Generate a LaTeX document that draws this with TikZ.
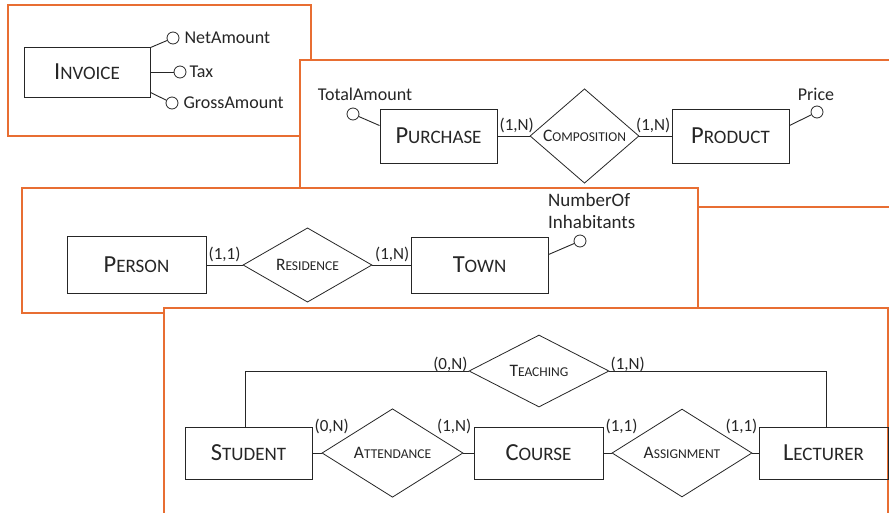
\documentclass[tikz,border=0pt]{standalone}
\usepackage{fontspec}
\setmainfont{Carlito}
\usetikzlibrary{shapes.geometric,positioning}

\definecolor{frame}{RGB}{232,110,50}
\newcommand{\entname}[2]{{\fontsize{24.5}{28}\selectfont #1}{\fontsize{19}{22}\selectfont #2}}
\newcommand{\relname}[2]{{\fontsize{17.5}{21}\selectfont #1}{\fontsize{13.5}{17}\selectfont #2}}

\begin{document}
\begin{tikzpicture}[x=1pt,y=-1pt,inner sep=1pt]
	\tikzstyle{panel}=[draw=frame,fill=white,line width=1.3pt]
	\tikzstyle{entity}=[draw=black!85,rectangle,line width=0.9pt,text=black!85]
	\tikzstyle{relation}=[draw=black!85,diamond,inner sep=0pt,line width=0.8pt,text=black!85]
	\tikzstyle{attr}=[draw=black!85,circle,fill=white,inner sep=0pt,minimum size=12pt,line width=0.8pt]
	\tikzstyle{attrtext}=[font=\fontsize{18}{21}\selectfont,text=black!85]
	\tikzstyle{card}=[font=\fontsize{17}{20}\selectfont,text=black!85]
	\tikzstyle{link}=[draw=black!85,line width=0.9pt]

	\useasboundingbox (0,0) rectangle (889,512);
	\clip (0,0) rectangle (889,512);

	% invoice
	\draw[panel] (8,5) rectangle (311,136);
	\node[entity,minimum width=126pt,minimum height=50pt] (INVOICE) at (87,72) {\entname{I}{NVOICE}};
	\node[attr] (NetAmount) at (173,38) {};
	\node[attr] (Tax) at (180,72) {};
	\node[attr] (GrossAmount) at (172,103) {};
	\node[attrtext] (NetAmountText) [right = 4pt of NetAmount] {NetAmount};
	\node[attrtext] (TaxText) [right = 2pt of Tax] {Tax};
	\node[attrtext] (GrossAmountText) [right = 4pt of GrossAmount] {GrossAmount};
	\draw[link] ([yshift=-1pt]INVOICE.north east) -- (NetAmount);
	\draw[link] (INVOICE.east) -- (Tax);
	\draw[link] ([yshift=5pt]INVOICE.south east) -- (GrossAmount);

	% purchase - product
	\draw[panel] (300,60) rectangle (895,207);
	\node[entity,minimum width=117pt,minimum height=54pt] (PURCHASE) at (438.5,136) {\entname{P}{URCHASE}};
	\node[relation,minimum width=109pt,minimum height=66pt] (COMPOSITION) at (584.5,136) {\relname{C}{OMPOSITION}};
	\node[entity,minimum width=117pt,minimum height=54pt] (PRODUCT) at (730.5,136) {\entname{P}{RODUCT}};
	\node[attr] (TotalAmount) at (353,114) {};
	\node[attrtext] (TotalAmountText) at (365,94) {TotalAmount};
	\node[attr] (Price) at (817,112) {};
	\node[attrtext] (PriceText) at (816,94) {Price};
	\draw[link] ([yshift=-17pt]PURCHASE.north west) -- (TotalAmount);
	\draw[link] ([yshift=-17pt]PRODUCT.north east) -- (Price);
	\path[link] (PURCHASE) edge (COMPOSITION);
	\path[link] (COMPOSITION) edge (PRODUCT);
	\node[card] (PurchaseCard) [above right = 2pt and 1pt of PURCHASE.east] {(1,N)};
	\node[card] (ProductCard) [above left = 2pt and 0pt of PRODUCT.west] {(1,N)};

	% person - town
	\draw[panel] (22,188) rectangle (698,313);
	\node[entity,minimum width=139pt,minimum height=57pt] (PERSON) at (136.5,265) {\entname{P}{ERSON}};
	\node[relation,minimum width=129pt,minimum height=68pt] (RESIDENCE) at (307.5,265) {\relname{R}{ESIDENCE}};
	\node[entity,minimum width=137pt,minimum height=56pt] (TOWN) at (479.5,265) {\entname{T}{OWN}};
	\node[attr] (NumberOfInhabitants) at (580,241) {};
	\node[attrtext,font=\fontsize{19}{22.5}\selectfont,align=left,anchor=west] (NumberOfInhabitantsText) at (547,211) {NumberOf\\Inhabitants};
	\draw[link] ([yshift=-18pt]TOWN.north east) -- (NumberOfInhabitants);
	\path[link] (PERSON) edge (RESIDENCE);
	\path[link] (RESIDENCE) edge (TOWN);
	\node[card] (PersonCard) [above right = 2pt and 1pt of PERSON.east] {(1,1)};
	\node[card] (TownCard) [above left = 2pt and 0pt of TOWN.west] {(1,N)};

	% student - course - lecturer
	\draw[panel] (164,308) rectangle (888,520);
	\node[entity,minimum width=127pt,minimum height=52pt] (STUDENT) at (248.5,453) {\entname{S}{TUDENT}};
	\node[relation,minimum width=141pt,minimum height=72pt] (ATTENDANCE) at (392.5,453) {\relname{A}{TTENDANCE}};
	\node[entity,minimum width=129pt,minimum height=52pt] (COURSE) at (538.5,453) {\entname{C}{OURSE}};
	\node[relation,minimum width=140pt,minimum height=71pt] (ASSIGNMENT) at (682,453) {\relname{A}{SSIGNMENT}};
	\node[entity,minimum width=129pt,minimum height=52pt] (LECTURER) at (823.5,453) {\entname{L}{ECTURER}};
	\node[relation,minimum width=140pt,minimum height=72pt] (TEACHING) at (539,371) {\relname{T}{EACHING}};
	\path[link] (STUDENT) edge (ATTENDANCE);
	\path[link] (ATTENDANCE) edge (COURSE);
	\path[link] (COURSE) edge (ASSIGNMENT);
	\path[link] (ASSIGNMENT) edge (LECTURER);
	\draw[link] ([xshift=-3pt]STUDENT.north) |- (TEACHING.west);
	\draw[link] (TEACHING.east) -| ([xshift=3pt]LECTURER.north);
	\node[card] (StudentCard) [right = 1pt of STUDENT.north east] {(0,N)};
	\node[card] (CourseCardA) [left = 1pt of COURSE.north west] {(1,N)};
	\node[card] (CourseCardB) [right = 1pt of COURSE.north east] {(1,1)};
	\node[card] (LecturerCard) [left = 0pt of LECTURER.north west] {(1,1)};
	\node[card] (TeachStudentCard) [above left = -2pt and 0pt of TEACHING.west] {(0,N)};
	\node[card] (TeachLecturerCard) [above right = -2pt and 0pt of TEACHING.east] {(1,N)};
\end{tikzpicture}
\end{document}
